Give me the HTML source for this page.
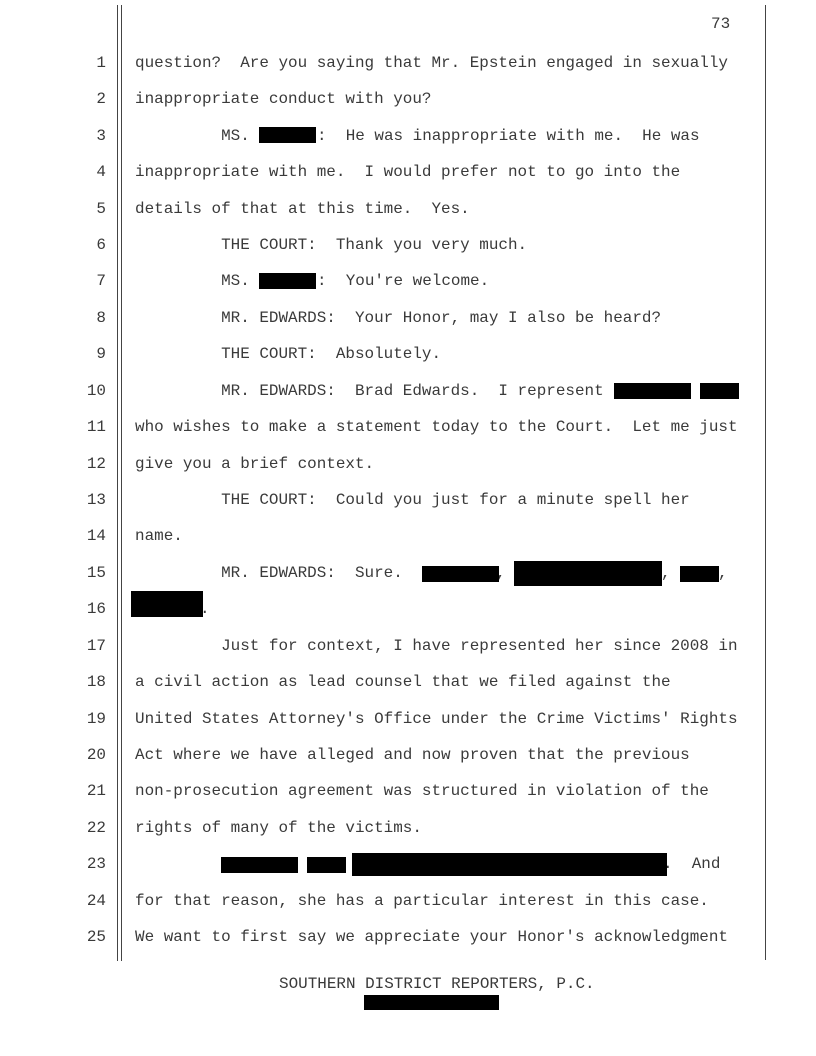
<!DOCTYPE html>
<html><head><meta charset="utf-8"><style>
body{margin:0;background:#fff;}
#p{position:relative;width:816px;height:1056px;overflow:hidden;background:#fff;font-family:"Liberation Mono",monospace;font-size:15.95px;color:#3a3a3a;}
.l{position:absolute;left:135px;white-space:pre;line-height:20px;}
.n{position:absolute;left:80px;width:26px;text-align:right;line-height:20px;}
.b{position:absolute;background:#000;}
.v{position:absolute;background:#444;width:1px;}
</style></head><body><div id="p">
<div class="v" style="left:117px;top:5px;height:956px"></div>
<div class="v" style="left:121px;top:5px;height:956px"></div>
<div class="v" style="left:765px;top:5px;height:955px"></div>
<div class="l" style="left:711px;top:14px">73</div>

<div class="n" style="top:53px">1</div><div class="l" style="top:53px">question?  Are you saying that Mr. Epstein engaged in sexually</div>
<div class="n" style="top:89px">2</div><div class="l" style="top:89px">inappropriate conduct with you?</div>
<div class="n" style="top:126px">3</div><div class="l" style="top:126px">         MS.</div><div class="l" style="left:317px;top:126px">:  He was inappropriate with me.  He was</div>
<div class="n" style="top:162px">4</div><div class="l" style="top:162px">inappropriate with me.  I would prefer not to go into the</div>
<div class="n" style="top:199px">5</div><div class="l" style="top:199px">details of that at this time.  Yes.</div>
<div class="n" style="top:235px">6</div><div class="l" style="top:235px">         THE COURT:  Thank you very much.</div>
<div class="n" style="top:271px">7</div><div class="l" style="top:271px">         MS.</div><div class="l" style="left:317px;top:271px">:  You're welcome.</div>
<div class="n" style="top:308px">8</div><div class="l" style="top:308px">         MR. EDWARDS:  Your Honor, may I also be heard?</div>
<div class="n" style="top:344px">9</div><div class="l" style="top:344px">         THE COURT:  Absolutely.</div>
<div class="n" style="top:381px">10</div><div class="l" style="top:381px">         MR. EDWARDS:  Brad Edwards.  I represent</div>
<div class="n" style="top:417px">11</div><div class="l" style="top:417px">who wishes to make a statement today to the Court.  Let me just</div>
<div class="n" style="top:454px">12</div><div class="l" style="top:454px">give you a brief context.</div>
<div class="n" style="top:490px">13</div><div class="l" style="top:490px">         THE COURT:  Could you just for a minute spell her</div>
<div class="n" style="top:526px">14</div><div class="l" style="top:526px">name.</div>
<div class="n" style="top:563px">15</div><div class="l" style="top:563px">         MR. EDWARDS:  Sure.</div>
<div class="l" style="left:496px;top:563px">,</div><div class="l" style="left:661px;top:563px">,</div><div class="l" style="left:718px;top:563px">,</div>
<div class="n" style="top:599px">16</div><div class="l" style="left:200px;top:599px">.</div>
<div class="n" style="top:636px">17</div><div class="l" style="top:636px">         Just for context, I have represented her since 2008 in</div>
<div class="n" style="top:672px">18</div><div class="l" style="top:672px">a civil action as lead counsel that we filed against the</div>
<div class="n" style="top:709px">19</div><div class="l" style="top:709px">United States Attorney's Office under the Crime Victims' Rights</div>
<div class="n" style="top:745px">20</div><div class="l" style="top:745px">Act where we have alleged and now proven that the previous</div>
<div class="n" style="top:781px">21</div><div class="l" style="top:781px">non-prosecution agreement was structured in violation of the</div>
<div class="n" style="top:818px">22</div><div class="l" style="top:818px">rights of many of the victims.</div>
<div class="n" style="top:854px">23</div><div class="l" style="left:663px;top:854px">.  And</div>
<div class="n" style="top:891px">24</div><div class="l" style="top:891px">for that reason, she has a particular interest in this case.</div>
<div class="n" style="top:927px">25</div><div class="l" style="top:927px">We want to first say we appreciate your Honor's acknowledgment</div>

<div class="b" style="left:259px;top:127px;width:57px;height:16px"></div>
<div class="b" style="left:259px;top:273px;width:57px;height:16px"></div>
<div class="b" style="left:614px;top:383px;width:77px;height:16px"></div>
<div class="b" style="left:700px;top:383px;width:39px;height:16px"></div>
<div class="b" style="left:422px;top:566px;width:77px;height:16px"></div>
<div class="b" style="left:514px;top:561px;width:148px;height:25px"></div>
<div class="b" style="left:680px;top:566px;width:39px;height:16px"></div>
<div class="b" style="left:131px;top:591px;width:72px;height:26px"></div>
<div class="b" style="left:221px;top:857px;width:77px;height:16px"></div>
<div class="b" style="left:307px;top:857px;width:39px;height:16px"></div>
<div class="b" style="left:352px;top:853px;width:315px;height:23px"></div>

<div class="l" style="left:279px;top:974px">SOUTHERN DISTRICT REPORTERS, P.C.</div>
<div class="b" style="left:364px;top:995px;width:135px;height:15px"></div>
</div></body></html>
